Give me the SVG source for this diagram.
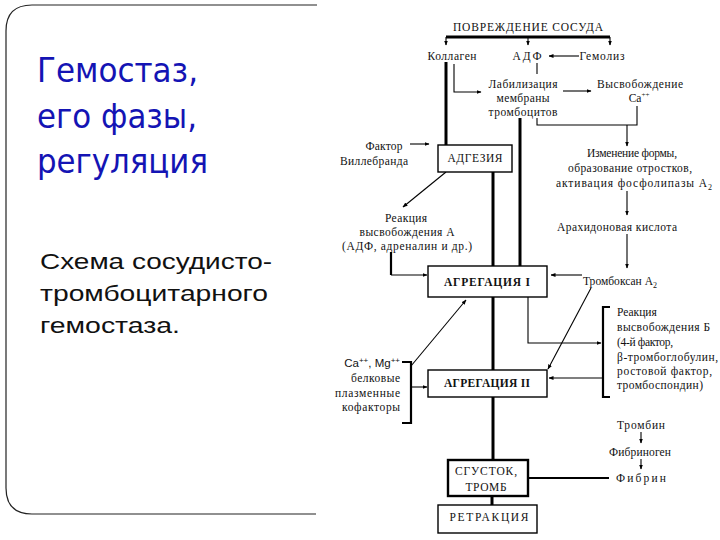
<svg xmlns="http://www.w3.org/2000/svg" width="720" height="540" viewBox="0 0 720 540">
<style>
.t{font-family:"Liberation Serif","Times New Roman",serif;font-size:11.5px;fill:#111}
.c{text-anchor:middle}
.r{text-anchor:end}
.b{font-weight:bold}
.s{font-family:"Liberation Sans",Arial,sans-serif}
.thick{stroke:#000;stroke-width:3;fill:none}
.med{stroke:#000;stroke-width:2.2;fill:none}
.thin{stroke:#000;stroke-width:1.1;fill:none}
.box{fill:#fff;stroke:#000;stroke-width:1.4}
.title{font-family:"DejaVu Sans","Open Sans",sans-serif;font-size:33px;fill:#1414b4}
.sub{font-family:"Liberation Sans",Arial,sans-serif;font-size:22px;fill:#111}
</style>
<defs>
<marker id="a" viewBox="0 0 10 10" refX="9" refY="5" markerWidth="5" markerHeight="5" markerUnits="userSpaceOnUse" orient="auto"><path d="M0,1 L10,5 L0,9 z" fill="#000"/></marker>
</defs>
<rect width="720" height="540" fill="#fff"/>

<g id="panel">
<path d="M317,5 H32 Q6,5 6,31 V488 Q6,514 32,514 H316" fill="none" stroke="#222" stroke-width="1.2"/>
<text class="title" x="37" y="82" textLength="161" lengthAdjust="spacingAndGlyphs">Гемостаз,</text>
<text class="title" x="37" y="128" textLength="160" lengthAdjust="spacingAndGlyphs">его фазы,</text>
<text class="title" x="37" y="173" textLength="171" lengthAdjust="spacingAndGlyphs">регуляция</text>
<text class="sub" x="40" y="269" textLength="232" lengthAdjust="spacingAndGlyphs">Схема сосудисто-</text>
<text class="sub" x="40" y="301" textLength="228" lengthAdjust="spacingAndGlyphs">тромбоцитарного</text>
<text class="sub" x="40" y="333" textLength="140" lengthAdjust="spacingAndGlyphs">гемостаза.</text>
</g>

<g id="connectors">
<path class="thick" d="M446,37 H610"/>
<path class="thin" d="M446,37 V45" marker-end="url(#a)"/>
<path class="thin" d="M528,37 V45" marker-end="url(#a)"/>
<path class="thin" d="M610,37 V45" marker-end="url(#a)"/>
<path class="thin" d="M579,56 H549" marker-end="url(#a)"/>
<path class="thick" d="M446,62 V145"/>
<path class="thin" d="M454,64 V92 H481" marker-end="url(#a)"/>
<path class="thin" d="M537,63 V74"/>
<path class="thin" d="M563,91 H591" marker-end="url(#a)"/>
<path class="thin" d="M537,118 V125 H637 V106"/>
<path class="thin" d="M627,125 V146" marker-end="url(#a)"/>
<path class="thin" d="M627,191 V215" marker-end="url(#a)"/>
<path class="thin" d="M627,234 V268" marker-end="url(#a)"/>
<path class="thin" d="M582,275 H551" marker-end="url(#a)"/>
<path class="thin" d="M410,144 H429" marker-end="url(#a)"/>
<path class="thin" d="M446,172 L403,207" marker-end="url(#a)"/>
<path class="med" d="M391,252 V275"/>
<path class="thin" d="M391,275 H427" marker-end="url(#a)"/>
<path class="thick" d="M493,172 V266"/>
<path class="thick" d="M520,118 V266"/>
<path class="thick" d="M493,297 V370"/>
<path class="thick" d="M493,397 V460"/>
<path class="thin" d="M528,297 V343 H601" marker-end="url(#a)"/>
<path class="med" d="M610,307 H603 V397 H610"/>
<path class="thin" d="M603,378 H549" marker-end="url(#a)"/>
<path class="thin" d="M591,288 L548,369" marker-end="url(#a)"/>
<path class="med" d="M402,362 H411 V423 H402"/>
<path class="thin" d="M411,387 H427" marker-end="url(#a)"/>
<path class="thin" d="M411,366 L466,300" marker-end="url(#a)"/>
<path class="thick" d="M492,496 V505"/>
<path class="med" d="M528,478 H609"/>
<path class="thin" d="M641,432 V443" marker-end="url(#a)"/>
<path class="thin" d="M641,459 V469" marker-end="url(#a)"/>
</g>

<g id="injury"><text class="t c" x="528" y="31" textLength="150">ПОВРЕЖДЕНИЕ СОСУДА</text></g>
<g id="collagen"><text class="t c" x="452" y="60" textLength="49">Коллаген</text></g>
<g id="adp"><text class="t c" x="527" y="60" textLength="29">АДФ</text></g>
<g id="hemolysis"><text class="t c" x="602" y="60" textLength="45">Гемолиз</text></g>
<g id="labil">
<text class="t c" x="523" y="88" textLength="69">Лабилизация</text>
<text class="t c" x="523" y="102" textLength="53">мембраны</text>
<text class="t c" x="523" y="116" textLength="69">тромбоцитов</text>
</g>
<g id="release-ca">
<text class="t c" x="640" y="88" textLength="86">Высвобождение</text>
<text class="t c" x="639" y="102">Са<tspan font-size="7" dy="-5">++</tspan></text>
</g>
<g id="vwf">
<text class="t c" x="384" y="150" textLength="37">Фактор</text>
<text class="t c" x="374" y="165" textLength="68">Виллебранда</text>
</g>
<g id="adhesion">
<rect class="box" x="438" y="145" width="74" height="27"/>
<text class="t c" x="475" y="162" textLength="55">АДГЕЗИЯ</text>
</g>
<g id="releaseA">
<text class="t c" x="406" y="222" textLength="42">Реакция</text>
<text class="t c" x="407" y="236" textLength="95">высвобождения А</text>
<text class="t c" x="407" y="250" textLength="130">(АДФ, адреналин и др.)</text>
</g>
<g id="shape">
<text class="t c" x="632" y="157" textLength="90">Изменение формы,</text>
<text class="t c" x="630" y="172" textLength="124">образование отростков,</text>
<text class="t c" x="634" y="187" textLength="156">активация фосфолипазы А<tspan font-size="8" dy="3">2</tspan></text>
</g>
<g id="arachidonic"><text class="t" x="557" y="231" textLength="120">Арахидоновая кислота</text></g>
<g id="txa2"><text class="t" x="583" y="285" textLength="74">Тромбоксан А<tspan font-size="8" dy="3">2</tspan></text></g>
<g id="aggregation1">
<rect class="box" x="428" y="266" width="119" height="31"/>
<text class="t c b" x="487" y="286" textLength="86">АГРЕГАЦИЯ  I</text>
</g>
<g id="releaseB">
<text class="t" x="617" y="316">Реакция</text>
<text class="t" x="617" y="331" textLength="93">высвобождения Б</text>
<text class="t" x="617" y="346" textLength="56">(4-й фактор,</text>
<text class="t" x="617" y="361" textLength="101">β-тромбоглобулин,</text>
<text class="t" x="617" y="375" textLength="95">ростовой фактор,</text>
<text class="t" x="617" y="389" textLength="86">тромбоспондин)</text>
</g>
<g id="cofactors">
<text class="t r s" x="400" y="367" font-size="12">Ca<tspan font-size="8" dy="-4">++</tspan><tspan dy="4">, Mg</tspan><tspan font-size="8" dy="-4">++</tspan></text>
<text class="t r" x="400" y="382" textLength="49">белковые</text>
<text class="t r" x="400" y="397" textLength="65">плазменные</text>
<text class="t r" x="400" y="411" textLength="58">кофакторы</text>
</g>
<g id="aggregation2">
<rect class="box" x="428" y="370" width="119" height="27"/>
<text class="t c b" x="487" y="387" textLength="86">АГРЕГАЦИЯ  II</text>
</g>
<g id="thrombin">
<text class="t c" x="641" y="429" textLength="48">Тромбин</text>
<text class="t c" x="640" y="456" textLength="62">Фибриноген</text>
<text class="t c" x="641" y="482" textLength="50">Фибрин</text>
</g>
<g id="clot">
<rect x="448" y="460" width="80" height="36" fill="#fff" stroke="#000" stroke-width="2.4"/>
<text class="t c" x="486" y="475" textLength="62">СГУСТОК,</text>
<text class="t c" x="486" y="491" textLength="41">ТРОМБ</text>
</g>
<g id="retraction">
<rect class="box" x="438" y="505" width="99" height="28"/>
<text class="t c" x="489" y="521" textLength="79">РЕТРАКЦИЯ</text>
</g>
</svg>
